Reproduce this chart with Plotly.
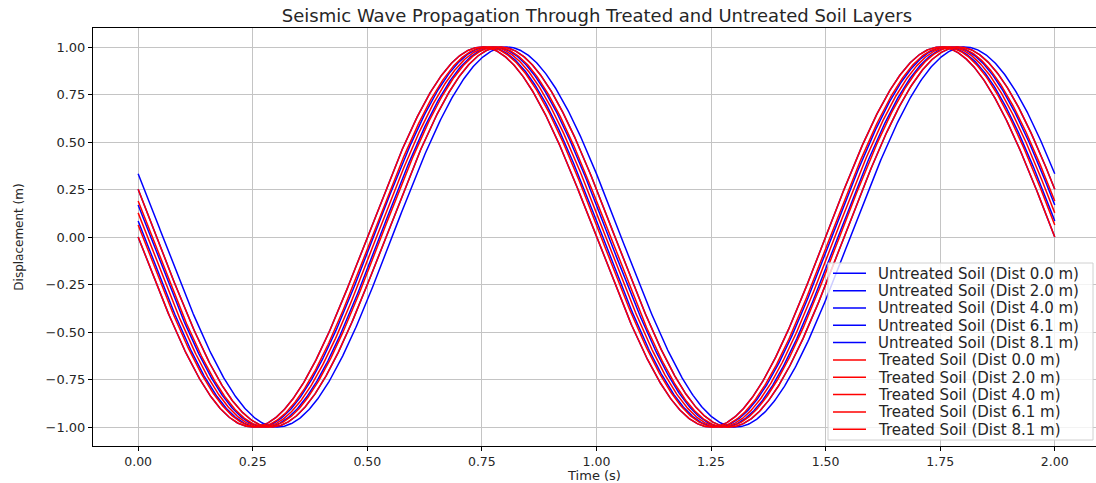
import numpy as np
import plotly.graph_objects as go

# Data / parameters
distances = [0.0, 2.025, 4.05, 6.075, 8.1]        # m
dist_labels = ["0.0", "2.0", "4.0", "6.1", "8.1"]
speed_untreated = 150.0                            # m/s
speed_treated = 200.0                              # m/s
frequency = 1.0                                    # Hz
time = np.linspace(0, 2, 1000)
series_colors = {"Untreated Soil": "blue", "Treated Soil": "red"}

FONT = "DejaVu Sans"
TXT = "#262626"
W, H = 1096, 483
L, R, T, B = 93, 0, 28, 37
x_range = [-0.0985, 2.09]
y_range = [-1.1, 1.1]
pw = W - L - R
ph = H - T - B


def px_x(p):
    return (p - L) / pw


def px_y(p):
    return (H - B - p) / ph


def wave(d, v):
    return np.sin(2 * np.pi * frequency * (d / v - time))


fig = go.Figure()
entries = []
for group, v in [("Untreated Soil", speed_untreated), ("Treated Soil", speed_treated)]:
    for d, lab in zip(distances, dist_labels):
        name = f"{group} (Dist {lab} m)"
        fig.add_trace(go.Scatter(x=time, y=wave(d, v), mode="lines",
                                 line=dict(color=series_colors[group], width=1.5),
                                 name=name, showlegend=False))
        entries.append((name, series_colors[group]))

# legend drawn in pixel geometry (matplotlib-like)
shapes = []
annotations = []
box_l, box_r, box_t, box_b = 828, 1093, 263, 440
shapes.append(dict(type="rect", xref="paper", yref="paper",
                   x0=px_x(box_l), x1=px_x(box_r), y0=px_y(box_b), y1=px_y(box_t),
                   fillcolor="rgba(255,255,255,0.8)", line=dict(color="#d0d0d0", width=1)))
row0, step = 273.3, 17.33
for i, (name, col) in enumerate(entries):
    yc = row0 + i * step
    shapes.append(dict(type="line", xref="paper", yref="paper",
                       x0=px_x(833), x1=px_x(866), y0=px_y(yc), y1=px_y(yc),
                       line=dict(color=col, width=1.5)))
    annotations.append(dict(text=name, xref="paper", yref="paper",
                            x=px_x(876), y=px_y(yc + 0.5), xanchor="left", yanchor="middle",
                            showarrow=False, font=dict(family=FONT, size=15, color=TXT)))

fig.update_layout(
    width=W, height=H,
    margin=dict(l=L, r=R, t=T, b=B, pad=0, autoexpand=False),
    paper_bgcolor="white", plot_bgcolor="white",
    font=dict(family=FONT, size=12.5, color=TXT),
    title=dict(text="Seismic Wave Propagation Through Treated and Untreated Soil Layers",
               x=px_x(597), xref="paper", xanchor="center",
               y=1 - 16 / H, yref="container", yanchor="middle",
               font=dict(family=FONT, size=18, color=TXT)),
    xaxis=dict(range=x_range, tickvals=[0, 0.25, 0.5, 0.75, 1.0, 1.25, 1.5, 1.75, 2.0],
               ticktext=["0.00", "0.25", "0.50", "0.75", "1.00", "1.25", "1.50", "1.75", "2.00"],
               tickfont=dict(family=FONT, size=12.5, color=TXT),
               showgrid=True, gridcolor="#c4c4c4", gridwidth=1,
               showline=True, linecolor="black", linewidth=1, mirror=True,
               ticks="outside", ticklen=4, tickcolor="black", tickwidth=1,
               zeroline=False, automargin=False,
               title=dict(text="Time (s)", standoff=1, font=dict(family=FONT, size=13, color=TXT))),
    yaxis=dict(range=y_range, tickvals=[-1, -0.75, -0.5, -0.25, 0, 0.25, 0.5, 0.75, 1.0],
               ticktext=["\u22121.00", "\u22120.75", "\u22120.50", "\u22120.25", "0.00",
                         "0.25", "0.50", "0.75", "1.00"],
               tickfont=dict(family=FONT, size=13, color=TXT),
               showgrid=True, gridcolor="#c4c4c4", gridwidth=1,
               showline=True, linecolor="black", linewidth=1, mirror=False,
               ticks="outside", ticklen=4, tickcolor="black", tickwidth=1,
               zeroline=False, automargin=False,
               title=dict(text="Displacement (m)", standoff=19, font=dict(family=FONT, size=12, color=TXT))),
    shapes=shapes,
    annotations=annotations,
    showlegend=False,
)

fig.write_html("out.html", config={"displayModeBar": False},
               post_script="document.body.style.margin='0px';document.body.style.overflow='hidden';")
